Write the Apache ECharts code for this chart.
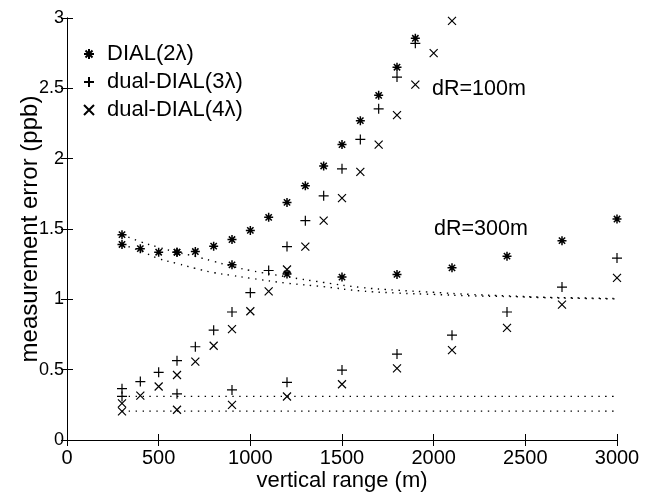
<!DOCTYPE html>
<html>
<head>
<meta charset="utf-8">
<script src="https://cdn.jsdelivr.net/npm/echarts@6/dist/echarts.min.js"></script>
<style>html,body{margin:0;padding:0;background:#fff}#c{width:651px;height:497px}</style>
</head>
<body>
<div id="c"></div>
<script>
// dR = 100 m
const x100 = [300,400,500,600,700,800,900,1000,1100,1200,1300,1400,1500,1600,1700,1800,1900,2000,2100];
const dial2_100 = [1.46,1.36,1.335,1.335,1.34,1.378,1.425,1.49,1.583,1.689,1.807,1.948,2.10,2.27,2.45,2.65,2.856,null,null];
const dual3_100 = [0.365,0.415,0.481,0.564,0.663,0.781,0.91,1.047,1.205,1.375,1.559,1.736,1.928,2.137,2.354,2.58,2.82,null,null];
const dual4_100 = [0.26,0.316,0.38,0.462,0.557,0.67,0.788,0.915,1.057,1.212,1.375,1.559,1.72,1.906,2.10,2.31,2.526,2.75,2.98];
// dR = 300 m
const x300 = [300,600,900,1200,1500,1800,2100,2400,2700,3000];
const dial2_300 = [1.39,1.335,1.245,1.18,1.158,1.177,1.224,1.307,1.417,1.571];
const dual3_300 = [0.31,0.328,0.356,0.41,0.497,0.611,0.745,0.91,1.087,1.293];
const dual4_300 = [0.203,0.215,0.25,0.309,0.396,0.509,0.639,0.797,0.962,1.153];
// dotted reference curves
const xCurve = [300,400,500,600,700,800,900,1000,1200,1400,1600,1800,2000,2200,2400,2600,2800,3000];
const curveA = [1.46,1.41,1.37,1.335,1.305,1.27,1.235,1.205,1.16,1.12,1.085,1.065,1.05,1.035,1.025,1.015,1.01,1.005];
const curveB = [1.39,1.345,1.29,1.255,1.22,1.19,1.17,1.15,1.115,1.09,1.06,1.045,1.035,1.025,1.02,1.012,1.007,1.003];
const xFlat = [300,3000];
const flatA = [0.31,0.31];
const flatB = [0.205,0.205];
const xTicks = [0,500,1000,1500,2000,2500,3000];
const yTicks = [0,0.5,1,1.5,2,2.5,3];
const names = ['DIAL(2\u03bb)','dual-DIAL(3\u03bb)','dual-DIAL(4\u03bb)'];

const FONT = 'Liberation Sans, Arial, Helvetica, sans-serif';
const pair = (xs, ys) => xs.map((x,i)=>[x, ys[i]]).filter(p=>p[1]!==null);
const SYM = {
  star: 'path://M5,0L5,10M0,5L10,5M1.5,1.5L8.5,8.5M8.5,1.5L1.5,8.5',
  plus: 'path://M5,0L5,10M0,5L10,5',
  cross: 'path://M0,0L10,10M10,0L0,10'
};
function scat(name, data, sym, size, bw){
  return {type:'scatter', name, data, symbol:SYM[sym], symbolSize:size,
    itemStyle:{color:'transparent', borderColor:'#000', borderWidth:bw, opacity:1},
    emphasis:{disabled:true}, z:3};
}
function dotted(data){
  return {type:'line', data, symbol:'none', smooth:true, silent:true,
    lineStyle:{color:'#000', width:1.4, type:[1.4,5.5]}, z:2};
}
const chart = echarts.init(document.getElementById('c'), null, {renderer:'canvas'});
const axisCommon = {
  axisLine:{show:true, lineStyle:{color:'#000', width:1}},
  axisTick:{show:true, inside:true, length:6, lineStyle:{color:'#000'}},
  splitLine:{show:false}
};
chart.setOption({
  animation:false,
  backgroundColor:'#fff',
  grid:{left:67, right:34, top:18, bottom:55},
  legend:{
    data:names, orient:'vertical', left:78, top:38, itemGap:6, itemWidth:10, itemHeight:10,
    textStyle:{fontFamily:FONT, fontSize:22, color:'#000', padding:[0,0,0,8]}, selectedMode:false
  },
  xAxis:[
    Object.assign({type:'value', min:0, max:3000, interval:500, name:'vertical range (m)',
      nameLocation:'middle', nameGap:30, nameMoveOverlap:false,
      nameTextStyle:{fontFamily:FONT, fontSize:22, color:'#000'},
      axisLabel:{fontFamily:FONT, fontSize:20, color:'#000', margin:8,
        formatter:v=> xTicks.includes(v) ? String(v) : ''}}, axisCommon),
    Object.assign({type:'value', min:0, max:3000, interval:500, position:'top',
      axisLabel:{show:false}}, axisCommon)
  ],
  yAxis:[
    Object.assign({type:'value', min:0, max:3, interval:0.5, name:'measurement error (ppb)',
      nameLocation:'middle', nameGap:25, nameMoveOverlap:false,
      nameTextStyle:{fontFamily:FONT, fontSize:24, color:'#000'},
      axisLabel:{fontFamily:FONT, fontSize:18, color:'#000', margin:3,
        formatter:v=> yTicks.includes(v) ? String(v) : ''}}, axisCommon),
    Object.assign({type:'value', min:0, max:3, interval:0.5, position:'right',
      axisLabel:{show:false}}, axisCommon)
  ],
  series:[
    scat(names[0], pair(x100, dial2_100), 'star', 9, 1.5),
    scat(names[1], pair(x100, dual3_100), 'plus', 10, 1.2),
    scat(names[2], pair(x100, dual4_100), 'cross', 8, 1.2),
    scat(names[0], pair(x300, dial2_300), 'star', 9, 1.5),
    scat(names[1], pair(x300, dual3_300), 'plus', 10, 1.2),
    scat(names[2], pair(x300, dual4_300), 'cross', 8, 1.2),
    dotted(pair(xCurve, curveA)),
    dotted(pair(xCurve, curveB)),
    dotted(pair(xFlat, flatA)),
    dotted(pair(xFlat, flatB))
  ],
  graphic:[
    {type:'text', left:432, top:78, style:{text:'dR=100m', fontFamily:FONT, fontSize:21.5, fill:'#000'}},
    {type:'text', left:434, top:218, style:{text:'dR=300m', fontFamily:FONT, fontSize:21.5, fill:'#000'}}
  ]
});
</script>
</body>
</html>
